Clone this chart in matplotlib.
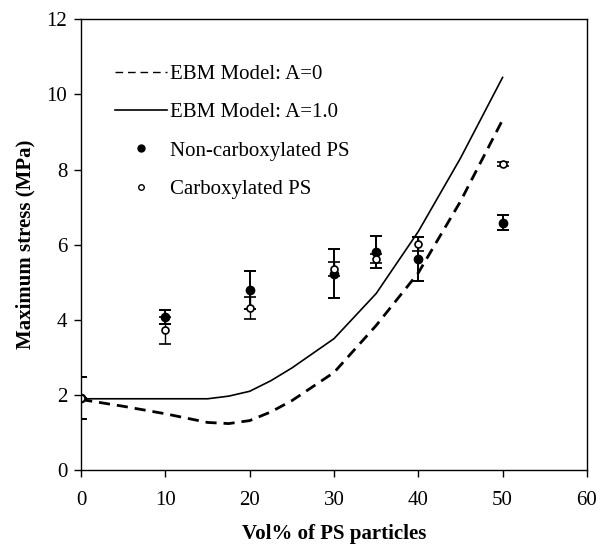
import matplotlib.pyplot as plt
import numpy as np

# model curves
model_x = [0, 5, 10, 15, 17.5, 20, 22.5, 25, 30, 35, 40, 45, 50]
model_a0 = [1.88, 1.70, 1.50, 1.27, 1.24, 1.32, 1.55, 1.85, 2.60, 3.85, 5.25, 7.15, 9.32]
model_a1 = [1.90, 1.90, 1.90, 1.90, 1.97, 2.10, 2.38, 2.72, 3.50, 4.70, 6.35, 8.30, 10.45]

# measured points
vol = [0, 10, 20, 30, 35, 40, 50]
noncarb = [1.92, 4.08, 4.80, 5.23, 5.80, 5.62, 6.59]
noncarb_err = [0.56, 0.18, 0.50, 0.65, 0.42, 0.58, 0.21]
carb = [1.92, 3.72, 4.32, 5.35, 5.62, 6.02, 8.14]
carb_err = [0.0, 0.35, 0.30, 0.19, 0.12, 0.18, 0.05]

plt.rcParams["font.family"] = ["Liberation Serif", "DejaVu Serif"]

fig = plt.figure(figsize=(5.97, 5.48), dpi=100)
ax = fig.add_axes([0.136, 0.142, 0.847, 0.823])

ax.plot(model_x, model_a0, color="black", lw=2.0, dashes=(4, 2.5))
ax.plot(model_x, model_a1, color="black", lw=1.2)

ax.errorbar(vol, noncarb, yerr=noncarb_err, fmt="o", color="black", ms=6,
            capsize=4, capthick=1.4, elinewidth=1.4)
ax.errorbar(vol, carb, yerr=carb_err, fmt="o", color="black", mfc="white",
            mew=1.2, ms=5, capsize=4, capthick=1.0, elinewidth=1.0)

# legend-only handles
ax.plot([], [], color="black", lw=1.0, dashes=(5.5, 3.5), label="EBM Model: A=0")
ax.plot([], [], color="black", lw=1.2, label="EBM Model: A=1.0")
ax.plot([], [], "o", color="black", ms=5, label="Non-carboxylated PS")
ax.plot([], [], "o", color="black", mfc="white", ms=4, mew=1.0, label="Carboxylated PS")

handles, labels = ax.get_legend_handles_labels()
ax.legend(handles, labels, loc="upper left", bbox_to_anchor=(0.067, 0.90),
          borderaxespad=0, borderpad=0, frameon=False, fontsize=15,
          handlelength=2.5, handletextpad=0.15, labelspacing=0.9)

ax.set_xlim(0, 60)
ax.set_ylim(0, 12)
ax.set_xticks(np.arange(0, 61, 10))
ax.set_yticks(np.arange(0, 13, 2))
ax.tick_params(direction="out", length=5, width=1, labelsize=15)
ax.tick_params(axis="x", pad=10)
ax.tick_params(axis="y", pad=5)
for s in ax.spines.values():
    s.set_linewidth(1.0)

ax.set_xlabel("Vol% of PS particles", fontsize=15, fontweight="bold", labelpad=10)
ax.set_ylabel("Maximum stress (MPa)", fontsize=15, fontweight="bold", labelpad=8)

fig.savefig("out.png", dpi=100)
